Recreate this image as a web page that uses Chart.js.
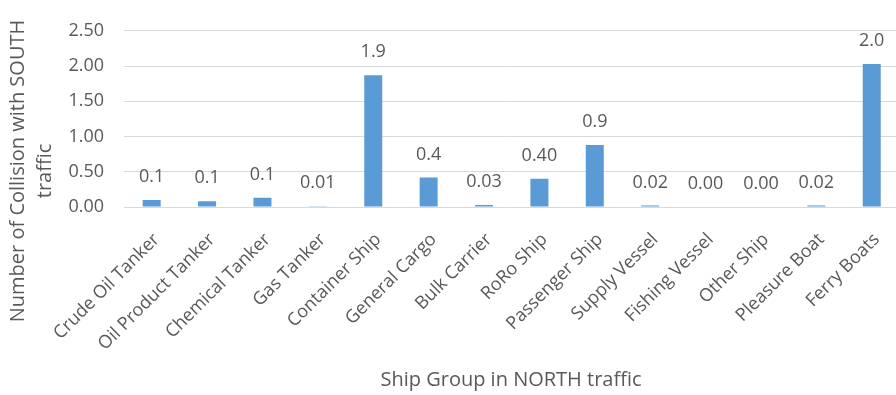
<!DOCTYPE html>
<html>
<head>
<meta charset="utf-8">
<script src="https://cdn.jsdelivr.net/npm/chart.js@4/dist/chart.umd.min.js"></script>
<style>
  html, body { margin: 0; padding: 0; background: #ffffff; overflow: hidden; }
  /* the plot runs slightly past the right edge of the view */
  #wrap { width: 901px; height: 395px; position: relative; }
</style>
</head>
<body>
<div id="wrap"><canvas id="chart"></canvas></div>
<script>
// Ship groups in the northbound traffic
const shipGroups = [
  'Crude Oil Tanker', 'Oil Product Tanker', 'Chemical Tanker', 'Gas Tanker',
  'Container Ship', 'General Cargo', 'Bulk Carrier', 'RoRo Ship',
  'Passenger Ship', 'Supply Vessel', 'Fishing Vessel', 'Other Ship',
  'Pleasure Boat', 'Ferry Boats'
];
// Expected number of collisions with southbound traffic
const collisions = [0.10, 0.08, 0.13, 0.01, 1.87, 0.42, 0.03, 0.40, 0.88, 0.02, 0.00, 0.00, 0.02, 2.03];
// Decimal places shown in each value label
const labelDecimals = [1, 1, 1, 2, 1, 1, 2, 2, 1, 2, 2, 2, 2, 1];

const yTitleLines = ['Number of Collision with SOUTH', 'traffic'];
const xTitle = 'Ship Group in NORTH traffic';

const TEXT = '#595959';
const FONT = '"Open Sans", sans-serif';

const valueLabels = {
  id: 'valueLabels',
  afterDatasetsDraw(chart) {
    const { ctx } = chart;
    const meta = chart.getDatasetMeta(0);
    ctx.save();
    ctx.font = '18px ' + FONT;
    ctx.fillStyle = TEXT;
    ctx.textAlign = 'center';
    ctx.textBaseline = 'middle';
    meta.data.forEach((bar, i) => {
      const txt = collisions[i].toFixed(labelDecimals[i]);
      ctx.fillText(txt, bar.x, bar.y - 23);
    });
    ctx.restore();
  }
};

const axisTitles = {
  id: 'axisTitles',
  afterDraw(chart) {
    const { ctx } = chart;
    ctx.save();
    ctx.font = '20px ' + FONT;
    ctx.fillStyle = TEXT;
    ctx.textAlign = 'center';
    ctx.textBaseline = 'middle';
    // vertical title, two lines
    ctx.save();
    ctx.translate(0, 171);
    ctx.rotate(-Math.PI / 2);
    ctx.fillText(yTitleLines[0], 0, 18);
    ctx.fillText(yTitleLines[1], 0, 45);
    ctx.restore();
    // horizontal title
    ctx.fillText(xTitle, 511, 380);
    ctx.restore();
  }
};

new Chart(document.getElementById('chart'), {
  type: 'bar',
  data: {
    labels: shipGroups,
    datasets: [{
      data: collisions,
      backgroundColor: '#5b9bd5',
      borderWidth: 0,
      categoryPercentage: 1.0,
      barPercentage: 0.325
    }]
  },
  options: {
    responsive: true,
    maintainAspectRatio: false,
    animation: false,
    devicePixelRatio: 1,
    layout: { padding: { left: 0, right: 0, top: 13, bottom: 0 } },
    plugins: {
      legend: { display: false },
      tooltip: { enabled: false }
    },
    scales: {
      x: {
        grid: { display: false },
        border: { display: false },
        ticks: {
          color: TEXT,
          font: { family: FONT, size: 18 },
          minRotation: 45,
          maxRotation: 45,
          autoSkip: false,
          padding: 14,
          labelOffset: 5
        },
        afterFit(scale) { scale.height = 188; }
      },
      y: {
        min: 0,
        max: 2.5,
        grid: { color: '#d9d9d9', lineWidth: 1, drawTicks: false },
        border: { display: false },
        ticks: {
          stepSize: 0.5,
          color: TEXT,
          font: { family: FONT, size: 18 },
          padding: 20,
          callback: (v) => Number(v).toFixed(2)
        },
        afterFit(scale) { scale.width = 124; }
      }
    }
  },
  plugins: [valueLabels, axisTitles]
});
</script>
</body>
</html>
